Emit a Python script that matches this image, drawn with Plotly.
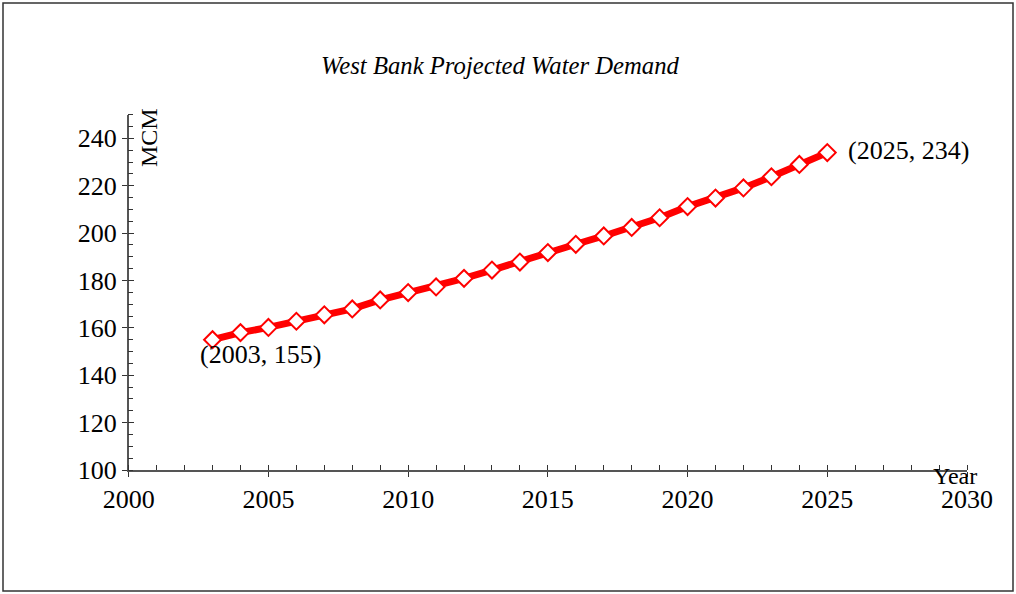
import plotly.graph_objects as go

years = list(range(2003, 2026))
demand = [155, 158, 160.2, 162.8, 165.5, 168, 171.8, 174.9, 177.3, 180.9,
          184.4, 187.8, 191.8, 195.3, 198.8, 202.4, 206.5, 211.2, 214.8,
          219.1, 223.8, 229.0, 234]
y_ticks = [100, 120, 140, 160, 180, 200, 220, 240]

W, H = 1016, 594
x_dom = [128.7 / W, 967 / W]
y_dom = [(H - 470) / H, (H - 114.7) / H]

serif = "Liberation Serif, Times New Roman, serif"
font = dict(family=serif, size=24, color="black")
big_font = dict(family=serif, size=26, color="black")

fig = go.Figure()

fig.add_trace(go.Scatter(
    x=years, y=demand,
    mode="lines+markers",
    line=dict(color="#ff0000", width=7),
    marker=dict(symbol="diamond", size=13, color="white",
                line=dict(color="#ff0000", width=2)),
    showlegend=False,
))

axis_common = dict(showgrid=False, zeroline=False, showline=True,
                   linecolor="#555", linewidth=1.5, tickcolor="#333",
                   tickfont=big_font, automargin=False)

fig.update_layout(
    width=W, height=H,
    margin=dict(l=0, r=0, t=0, b=0, autoexpand=False),
    paper_bgcolor="white", plot_bgcolor="white",
    font=font,
    xaxis=dict(domain=x_dom, range=[2000, 2030], tickmode="linear",
               tick0=2000, dtick=5, ticks="outside", ticklen=5,
               minor=dict(dtick=1, ticks="inside", ticklen=5, tickcolor="#333"),
               **axis_common),
    yaxis=dict(domain=y_dom, range=[100, 250], tickmode="array",
               tickvals=y_ticks, ticks="outside", ticklen=5,
               minor=dict(dtick=5, tick0=100, ticks="inside", ticklen=5, tickcolor="#333"),
               **axis_common),
    # overlay axes give the inner half of the major ticks
    xaxis2=dict(domain=x_dom, range=[2000, 2030], overlaying="x", anchor="y",
                tickmode="linear", tick0=2000, dtick=5, ticks="inside",
                ticklen=5, tickcolor="#333", showticklabels=False,
                showgrid=False, zeroline=False, showline=False, side="bottom"),
    yaxis2=dict(domain=y_dom, range=[100, 250], overlaying="y", anchor="x",
                tickmode="array", tickvals=y_ticks,
                ticks="inside", ticklen=5, tickcolor="#333", showticklabels=False,
                showgrid=False, zeroline=False, showline=False, side="left"),
)

# dummy trace so overlay axes are drawn
fig.add_trace(go.Scatter(x=[years[0]], y=[demand[0]], xaxis="x2", yaxis="y2",
                         mode="markers", marker=dict(opacity=0),
                         showlegend=False, hoverinfo="skip"))

fig.add_annotation(text="<i>West Bank Projected Water Demand</i>",
                   xref="paper", yref="paper", x=500 / W, y=(H - 65) / H,
                   showarrow=False, font=dict(family=serif, size=24.7, color="black"),
                   xanchor="center", yanchor="middle")
fig.add_annotation(text="MCM", textangle=-90,
                   xref="paper", yref="paper", x=149 / W, y=(H - 138) / H,
                   showarrow=False, font=font, xanchor="center", yanchor="middle")
fig.add_annotation(text="Year",
                   xref="paper", yref="paper", x=955 / W, y=(H - 476) / H,
                   showarrow=False, font=font, xanchor="center", yanchor="middle")
fig.add_annotation(text=f"({years[0]}, {demand[0]:g})", x=years[0], y=demand[0],
                   xshift=48, yshift=-15, showarrow=False, font=big_font)
fig.add_annotation(text=f"({years[-1]}, {demand[-1]:g})", x=years[-1], y=demand[-1],
                   xanchor="left", xshift=19, yshift=2, showarrow=False, font=big_font)

fig.add_shape(type="rect", xref="paper", yref="paper",
              x0=3 / W, x1=1013 / W, y0=(H - 591) / H, y1=(H - 3) / H,
              line=dict(color="#333", width=1.5), layer="below")

fig.write_html("out.html", config={"displayModeBar": False},
               post_script="document.body.style.margin='0';")
